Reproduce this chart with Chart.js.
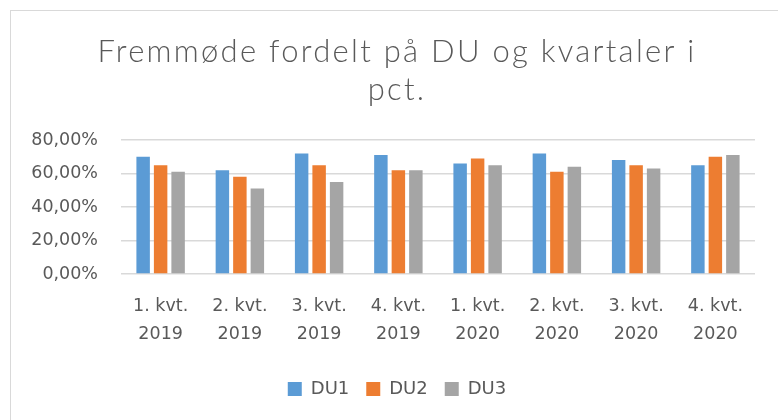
<!DOCTYPE html>
<html>
<head>
<meta charset="utf-8">
<script src="https://cdn.jsdelivr.net/npm/chart.js@4"></script>
<style>
  html, body { margin: 0; padding: 0; background: #ffffff; overflow: hidden; width: 778px; height: 420px; }
  #frame { position: absolute; left: 10px; top: 10px; width: 800px; height: 440px;
           border-left: 1px solid #d9d9d9; border-top: 1px solid #d9d9d9; background: #fff; }
  canvas { display: block; }
</style>
</head>
<body>
<div id="frame"><canvas id="c" width="772" height="420"></canvas></div>
<script>
const titleLines = ['Fremmøde fordelt på DU og kvartaler i', 'pct.'];
const categories = [
  ['1. kvt.', '2019'], ['2. kvt.', '2019'], ['3. kvt.', '2019'], ['4. kvt.', '2019'],
  ['1. kvt.', '2020'], ['2. kvt.', '2020'], ['3. kvt.', '2020'], ['4. kvt.', '2020']
];
const seriesNames = ['DU1', 'DU2', 'DU3'];
const du1 = [70, 62, 72, 71, 66, 72, 68, 65];
const du2 = [65, 58, 65, 62, 69, 61, 65, 70];
const du3 = [61, 51, 55, 62, 65, 64, 63, 71];
const yTicks = [0, 20, 40, 60, 80];

const colors = ['#5B9BD5', '#ED7D31', '#A5A5A5'];
const txt = '#595959';
const grid = '#d9d9d9';
const titleFont = { family: 'Lato', size: 31, weight: 300, lineHeight: 1.226 };
const titleTargetWidth = 599;

const fmt = v => v.toFixed(2).replace('.', ',') + '%';

// widen the title letters a little, like the reference
const titleSpacing = {
  id: 'titleSpacing',
  beforeDraw(chart) {
    const tb = chart.titleBlock;
    if (!tb || tb._wrapped) return;
    const orig = tb.draw;
    tb.draw = function () {
      const ctx = this.ctx;
      ctx.save();
      ctx.font = `${titleFont.weight} ${titleFont.size}px ${titleFont.family}`;
      const w = ctx.measureText(titleLines[0]).width;
      const sp = Math.max(0, (titleTargetWidth - w) / titleLines[0].length);
      ctx.letterSpacing = sp.toFixed(2) + 'px';
      orig.apply(this, arguments);
      ctx.restore();
    };
    tb._wrapped = true;
  }
};

new Chart(document.getElementById('c'), {
  type: 'bar',
  data: {
    labels: categories,
    datasets: [du1, du2, du3].map((d, i) => ({
      label: seriesNames[i],
      data: d,
      backgroundColor: colors[i],
      borderWidth: 0,
      categoryPercentage: 0.662,
      barPercentage: 0.77
    }))
  },
  plugins: [titleSpacing],
  options: {
    responsive: false,
    animation: false,
    devicePixelRatio: 1,
    layout: { padding: { left: 0, right: 0, top: 0, bottom: 23 } },
    plugins: {
      title: {
        display: true,
        text: titleLines,
        color: txt,
        font: titleFont,
        padding: { top: 22, bottom: 31 }
      },
      legend: {
        position: 'bottom',
        labels: {
          color: txt,
          font: { family: 'DejaVu Sans', size: 18 },
          boxWidth: 14,
          boxHeight: 14,
          padding: 17
        }
      },
      tooltip: { enabled: false }
    },
    scales: {
      x: {
        grid: { display: false, drawTicks: false },
        border: { display: false },
        ticks: {
          color: txt,
          font: { family: 'DejaVu Sans', size: 17.5, lineHeight: 1.6 },
          padding: 18,
          maxRotation: 0,
          autoSkip: false
        },
        afterFit: s => { s.height = 89; }
      },
      y: {
        min: 0,
        max: 80,
        afterBuildTicks: s => { s.ticks = yTicks.map(v => ({ value: v })); },
        grid: { color: grid, lineWidth: 1.5, drawTicks: false },
        border: { display: false },
        ticks: {
          color: txt,
          font: { family: 'DejaVu Sans', size: 17.5 },
          padding: 23,
          callback: v => fmt(v)
        },
        afterFit: s => { s.width = 110; }
      },
      yRight: {
        type: 'linear',
        position: 'right',
        min: 0,
        max: 80,
        grid: { display: false, drawTicks: false },
        border: { display: false },
        ticks: { display: false },
        afterFit: s => { s.width = 28; }
      }
    }
  }
});
</script>
</body>
</html>
